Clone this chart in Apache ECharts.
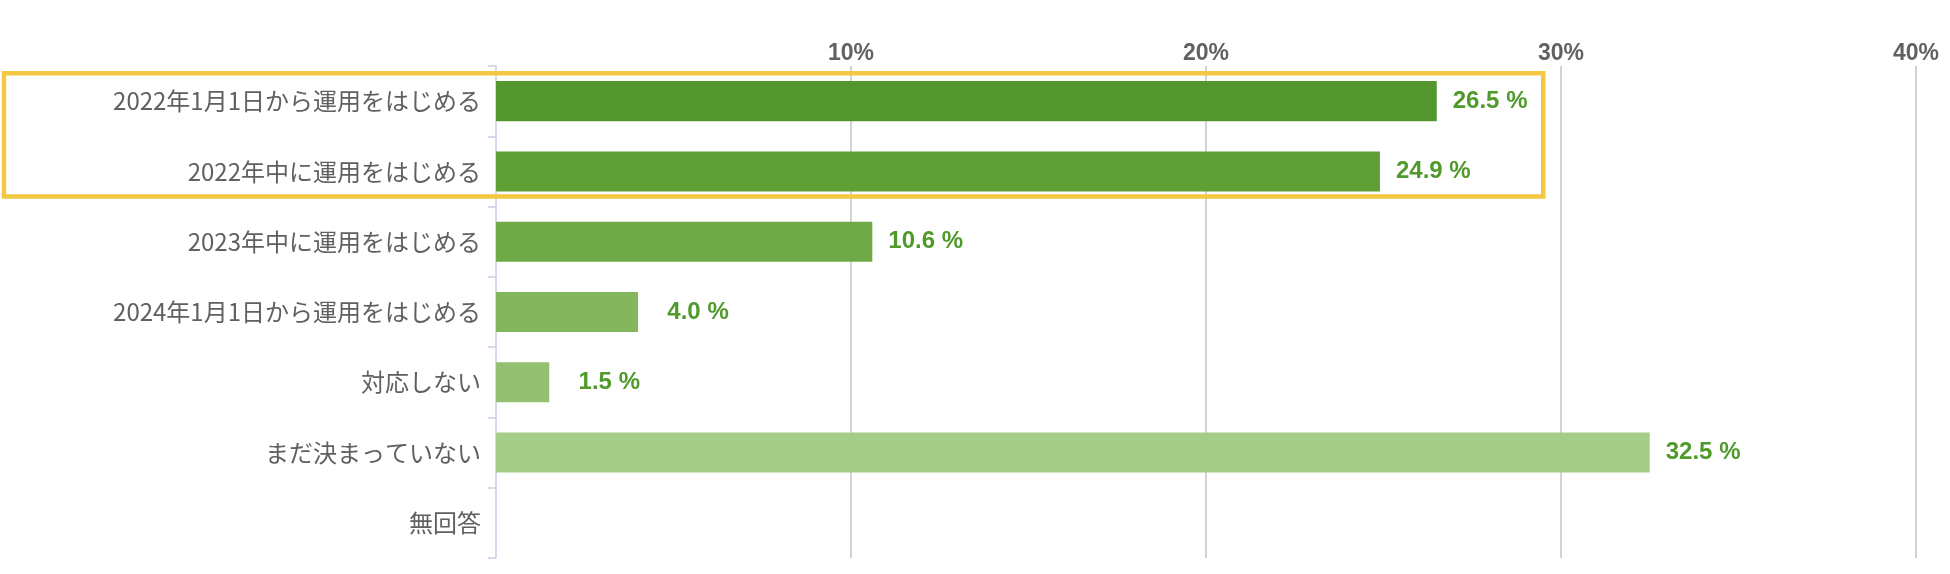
<!DOCTYPE html>
<html>
<head>
<meta charset="utf-8">
<script src="https://cdn.jsdelivr.net/npm/echarts@6/dist/echarts.min.js"></script>
<style>
html,body{margin:0;padding:0;background:#fff;}
#chart{width:1950px;height:574px;}
</style>
</head>
<body>
<div id="chart"></div>
<script>
const categories = [
  '2022年1月1日から運用をはじめる',
  '2022年中に運用をはじめる',
  '2023年中に運用をはじめる',
  '2024年1月1日から運用をはじめる',
  '対応しない',
  'まだ決まっていない',
  '無回答'
];
const values = [26.5, 24.9, 10.6, 4.0, 1.5, 32.5, 0];
const barColors = ['#53962d', '#5f9f36', '#70aa47', '#83b65d', '#93c071', '#a6cc89', '#b5d59c'];
const xTicks = [0, 10, 20, 30, 40];
const highlightRows = [0, 1];
const highlightMax = 29.5;

const chart = echarts.init(document.getElementById('chart'), null, {renderer: 'canvas'});
const option = {
  animation: false,
  backgroundColor: '#ffffff',
  grid: {left: 496, right: 34, top: 66, bottom: 16, containLabel: false},
  xAxis: {
    type: 'value',
    position: 'top',
    min: xTicks[0],
    max: xTicks[xTicks.length - 1],
    interval: 10,
    axisLine: {show: false},
    axisTick: {show: false},
    axisLabel: {
      show: true,
      showMinLabel: false,
      margin: 1,
      formatter: v => v + '%',
      color: '#616161',
      fontFamily: 'Liberation Sans, Arial, sans-serif',
      fontWeight: 'bold',
      fontSize: 23
    },
    splitLine: {show: true, showMinLine: false, lineStyle: {color: '#c4c4c4', width: 1.5}}
  },
  yAxis: {
    type: 'category',
    inverse: true,
    data: categories,
    axisLine: {show: true, lineStyle: {color: '#c5d1e3', width: 1.5}},
    axisTick: {show: true, length: 8, lineStyle: {color: '#c5d1e3', width: 1.5}},
    axisLabel: {
      margin: 15,
      color: '#606060',
      fontSize: 24,
      fontFamily: '"Noto Sans CJK JP", sans-serif'
    }
  },
  series: [{
    type: 'bar',
    barWidth: '57%',
    data: values.map((v, i) => ({value: v, itemStyle: {color: barColors[i]}})),
    label: {
      show: true,
      position: 'right',
      distance: 16,
      formatter: p => p.value > 0 ? (p.value < 10 ? '\u2007' : '') + p.value.toFixed(1) + ' %' : '',
      color: '#4f9a2b',
      fontFamily: 'Liberation Sans, Arial, sans-serif',
      fontWeight: 'bold',
      fontSize: 24
    },
    z: 2
  }]
};
chart.setOption(option);

// highlight frame around the first two rows
const rowTop = chart.convertToPixel({yAxisIndex: 0}, categories[highlightRows[0]]);
const rowBot = chart.convertToPixel({yAxisIndex: 0}, categories[highlightRows[highlightRows.length - 1]]);
const xRight = chart.convertToPixel({xAxisIndex: 0}, highlightMax);
const frameTop = rowTop - 28;
const frameBottom = rowBot + 25;
chart.setOption({
  graphic: [{
    type: 'rect',
    z: 100,
    shape: {x: 4, y: frameTop, width: xRight - 4, height: frameBottom - frameTop},
    style: {fill: 'none', stroke: '#f4c842', lineWidth: 4.5}
  }]
});
</script>
</body>
</html>
